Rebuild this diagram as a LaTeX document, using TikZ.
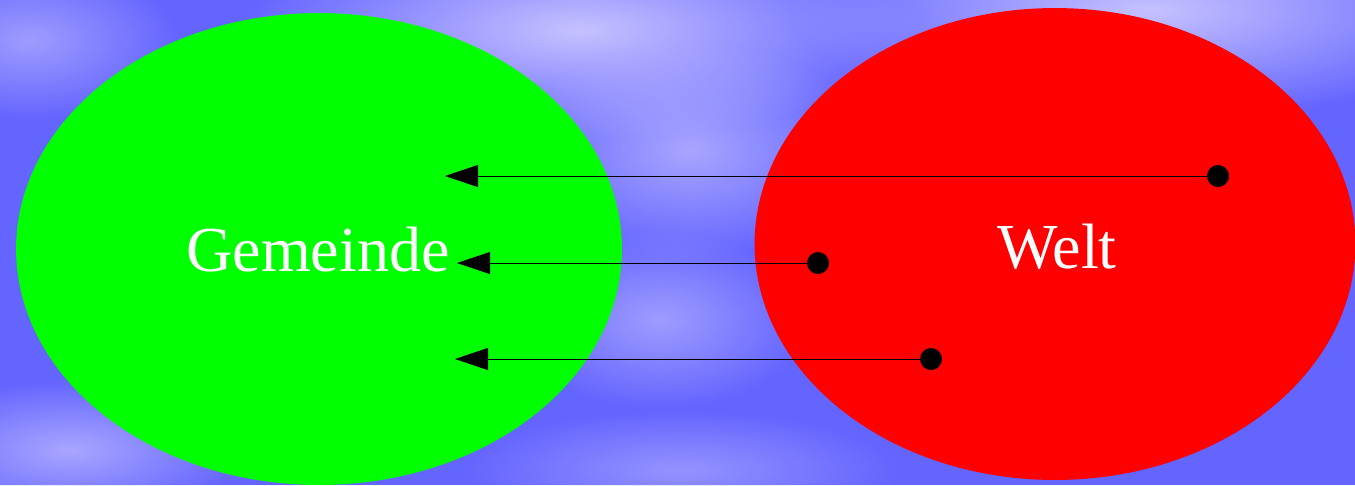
\documentclass[tikz,border=0pt]{standalone}
\usepackage{fontspec}
\setmainfont{Liberation Serif}
\usetikzlibrary{arrows.meta,positioning,shapes.geometric,fadings}
\definecolor{sky}{HTML}{6464FF}
\definecolor{haze}{HTML}{C6C2FF}
\definecolor{meadow}{HTML}{00FF00}
\definecolor{fire}{HTML}{FF0000}
\tikzfading[name=puff,inner color=transparent!0,outer color=transparent!100]

\begin{document}
\begin{tikzpicture}[
  x=0.02cm,y=-0.02cm,
  >={Triangle[length=0.66cm,width=0.44cm]},
  blob/.style={ellipse,inner sep=0pt,minimum height=9.44cm},
  lbl/.style={text=white,font=\fontsize{36.5}{40}\selectfont},
  pt/.style={circle,fill=black,inner sep=0pt,minimum size=0.44cm},
  link/.style={->,line width=0.5pt},
  cloud/.style={fill=haze,path fading=puff}
]
% --- sky background -----------------------------------------------------
\useasboundingbox (0,0) rectangle (1355,485);
\fill[sky] (0,0) rectangle (1355,485);
\fill[cloud,fill opacity=1] (580,30) ellipse (340 and 110);
\fill[cloud,fill opacity=1] (1150,10) ellipse (360 and 110);
\fill[cloud,fill opacity=.7] (690,150) ellipse (180 and 110);
\fill[cloud,fill opacity=.6] (660,320) ellipse (150 and 90);
\fill[cloud,fill opacity=.7] (70,450) ellipse (180 and 70);
\fill[cloud,fill opacity=.5] (680,470) ellipse (220 and 60);
\fill[cloud,fill opacity=.6] (30,40) ellipse (150 and 80);
% --- the two sets -------------------------------------------------------
\node[blob,fill=meadow,minimum width=12.12cm] (gem) at (319,249) {};
\node[blob,fill=fire,minimum width=12.02cm] (welt) at (1055,244) {};
\node[lbl] (gemtxt) at (318,250) {Gemeinde};
\node[lbl] (welttxt) at (1057,247) {Welt};
% --- points and arrows --------------------------------------------------
\node[pt] (p1) at (1218,176) {};
\node[pt] (p2) at (818,263) {};
\node[pt] (p3) at (931,359) {};
\coordinate (t1) at (445,176);
\coordinate (t2) at (457,263);
\coordinate (t3) at (455,359);
\foreach \i in {1,2,3}{\draw[link] (p\i.center) -- (t\i);}
\end{tikzpicture}
\end{document}
